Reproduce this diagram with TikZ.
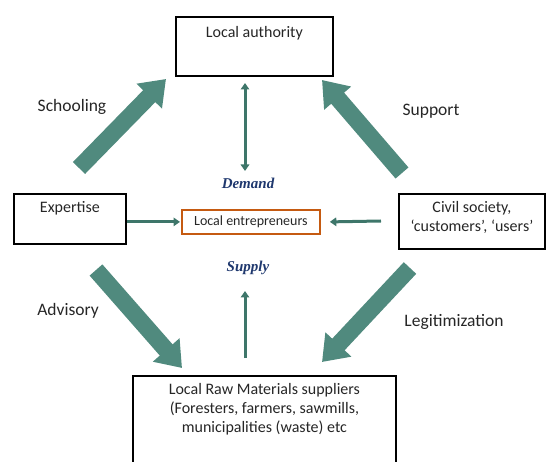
\documentclass[tikz,border=0pt]{standalone}
\usepackage{fontspec}
\setmainfont{Carlito}
\newfontfamily\accentserif{Liberation Serif}
\usetikzlibrary{arrows.meta}
\definecolor{flowteal}{RGB}{80,138,126}
\definecolor{linkteal}{RGB}{62,118,106}
\definecolor{entborder}{RGB}{197,90,17}
\definecolor{flownavy}{RGB}{31,56,110}
\definecolor{inktext}{RGB}{38,38,38}
\begin{document}
\begin{tikzpicture}[x=1pt,y=-1pt,
  box/.style={draw=black, line width=1.8pt, inner sep=0pt},
  boxtext/.style={font=\fontsize{16}{19}\selectfont, text=inktext, align=center, inner sep=0pt},
  sidelabel/.style={font=\fontsize{17.5}{20}\selectfont, text=inktext, inner sep=0pt},
  flowlabel/.style={font=\accentserif\bfseries\itshape\fontsize{15}{17}\selectfont, text=flownavy, inner sep=0pt},
  bigflow/.style={draw=flowteal, line width=17pt, -{Triangle[width=34pt,length=24pt]}},
  thinlink/.style={draw=linkteal, line width=3pt, -{Triangle[width=8.5pt,length=6.5pt]}},
  thinboth/.style={draw=linkteal, line width=3pt, {Triangle[width=8.5pt,length=6.5pt]}-{Triangle[width=8.5pt,length=6.5pt]}}
]
\useasboundingbox (0,0) rectangle (546,462);
\clip (0,0) rectangle (546,462);

% boxes
\node[box, minimum width=157pt, minimum height=59pt, anchor=north west] (auth) at (175,16) {};
\node[boxtext, anchor=north] (authtext) at ([yshift=-10pt]auth.north) {Local authority};

\node[box, minimum width=112pt, minimum height=50pt, anchor=north west] (exp) at (13,193) {};
\node[boxtext, anchor=north] (exptext) at ([yshift=-8pt]exp.north) {Expertise};

\node[box, minimum width=146pt, minimum height=55pt, anchor=north west] (civ) at (398,193) {};
\node[boxtext, anchor=north] (civtext) at ([yshift=-8pt]civ.north)
  {Civil society,\\ ‘customers’, ‘users’};

\node[draw=entborder, line width=1.8pt, minimum width=138pt, minimum height=24pt, anchor=north west,
      inner sep=0pt, font=\fontsize{14}{16}\selectfont, text=inktext] (ent) at (181,209) {Local entrepreneurs};

\node[box, minimum width=263pt, minimum height=110pt, anchor=north west] (raw) at (132,375) {};
\node[boxtext, anchor=north] (rawtext) at ([yshift=-8pt]raw.north)
  {Local Raw Materials suppliers\\ (Foresters, farmers, sawmills,\\ municipalities (waste) etc};

% side labels
\node[sidelabel] (schooling) at (72,107) {Schooling};
\node[sidelabel] (support) at (431,111) {Support};
\node[sidelabel] (advisory) at (68,311) {Advisory};
\node[sidelabel] (legit) at (454,322) {Legitimization};
\node[flowlabel] (demand) at (248,183) {Demand};
\node[flowlabel] (supply) at (248,268) {Supply};

% ends of the block arrows
\coordinate (schoolTail) at (79,168);   \coordinate (schoolTip) at (166,79);
\coordinate (supportTail) at (402,173); \coordinate (supportTip) at (322,80);
\coordinate (advTail) at (96,270);      \coordinate (advTip) at (182,368);
\coordinate (legTail) at (410,268);     \coordinate (legTip) at (322,362);

\draw[bigflow] (schoolTail) -- (schoolTip);
\draw[bigflow] (supportTail) -- (supportTip);
\draw[bigflow] (advTail) -- (advTip);
\draw[bigflow] (legTail) -- (legTip);

% thin links around the entrepreneurs
\coordinate (demTop) at (245,83);
\coordinate (demBot) at (245,171);
\draw[thinboth] (demTop) -- (demBot);

\coordinate (supBot) at (245,358);
\coordinate (supTop) at (245,291);
\draw[thinlink] (supBot) -- (supTop);

\draw[thinlink] (exp.east |- ent.west) -- ([xshift=-1pt]ent.west);
\coordinate (civStart) at (381,221);
\draw[thinlink] (civStart) -- ([xshift=9pt]ent.east);
\end{tikzpicture}
\end{document}
